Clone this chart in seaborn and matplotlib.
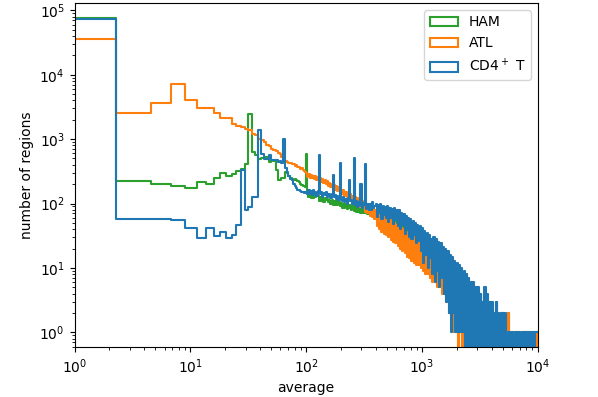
import numpy as np
import pandas as pd
import seaborn as sns
import matplotlib.pyplot as plt
from matplotlib.patches import Patch

plt.rcParams["path.simplify"] = False

# bins: 2.27 wide linear bins up to ~100, then log-spaced bins up to 10^4
bin_width = 2.27
n_linear = 44
n_tail = 200

labels = ["CD4$^+$ T", "ATL", "HAM"]
colors = ["tab:blue", "tab:orange", "tab:green"]

# counts for the linear bins (0 .. ~100)
cd4_linear = [74000, 58, 57, 56, 41, 29, 42, 31, 36, 29, 32, 46, 328, 79, 89, 126,
              126, 1370, 596, 499, 499, 561, 466, 480, 470, 440, 450, 430, 1018, 360,
              310, 270, 240, 235, 200, 185, 175, 165, 160, 155, 151, 150, 148, 152]
atl_linear = [35700, 2580, 3630, 7160, 4100, 3030, 3030, 2540, 2120, 2120, 1690, 1600,
              1540, 1450, 1370, 1200, 1150, 1000, 960, 900, 800, 790, 700, 670, 650,
              600, 580, 520, 470, 460, 440, 420, 430, 405, 410, 385, 395, 365, 370,
              345, 350, 330, 320, 310]
ham_linear = [76000, 222, 199, 188, 177, 214, 199, 250, 298, 265, 292, 321, 340, 410,
              2480, 631, 561, 499, 500, 527, 520, 442, 466, 460, 330, 235, 228, 250,
              245, 305, 300, 270, 250, 240, 235, 240, 230, 225, 215, 200, 195, 190,
              185, 180]

# counts for the log-spaced tail bins (~100 .. 10^4), one row per 0.1 decade
cd4_tail = [150, 138, 160, 142, 155, 135, 162, 140, 150, 132,
            158, 561, 140, 150, 128, 145, 135, 152, 125, 140,
            138, 120, 142, 275, 125, 135, 118, 130, 115, 430,
            122, 110, 125, 105, 118, 100, 120, 230, 108, 115,
            100, 517, 95, 110, 88, 105, 92, 200, 85, 102,
            95, 417, 82, 100, 80, 98, 78, 105, 85, 92,
            100, 62, 95, 70, 98, 58, 92, 66, 88, 60,
            90, 52, 85, 60, 82, 48, 86, 55, 78, 45,
            78, 40, 72, 46, 68, 34, 64, 40, 60, 30,
            58, 28, 54, 32, 50, 24, 46, 26, 44, 18,
            42, 12, 38, 16, 35, 10, 32, 14, 28, 8,
            30, 6, 28, 9, 25, 5, 24, 7, 21, 4,
            20, 3, 18, 2, 16, 1, 15, 2, 13, 1,
            12, 1, 11, 1, 10, 1, 9, 0, 8, 0,
            7, 0, 6, 0, 6, 0, 5, 0, 5, 0,
            4, 0, 3, 0, 5, 0, 4, 0, 3, 0,
            3, 0, 2, 0, 3, 0, 2, 0, 2, 0,
            2, 0, 2, 0, 1, 0, 1, 0, 1, 0,
            1, 0, 1, 0, 1, 0, 1, 0, 1, 0,
            1, 0, 1, 0, 1, 0, 1, 0, 1, 1]
atl_tail = [300, 262, 290, 250, 280, 245, 270, 240, 265, 235,
            255, 222, 248, 215, 240, 205, 230, 198, 222, 190,
            210, 178, 200, 170, 195, 162, 185, 158, 178, 150,
            165, 140, 160, 130, 150, 125, 145, 118, 140, 110,
            130, 105, 125, 98, 120, 92, 115, 88, 108, 85,
            105, 75, 100, 70, 95, 65, 90, 62, 85, 58,
            80, 45, 76, 40, 72, 36, 68, 34, 62, 32,
            60, 30, 56, 27, 52, 25, 49, 24, 46, 22,
            45, 20, 42, 18, 40, 17, 36, 15, 34, 14,
            32, 13, 30, 12, 29, 11, 27, 11, 26, 10,
            25, 9, 24, 8, 23, 8, 22, 7, 21, 6,
            20, 6, 18, 5, 17, 5, 16, 4, 15, 4,
            14, 3, 13, 2, 12, 2, 11, 1, 10, 1,
            10, 0, 9, 1, 8, 0, 7, 0, 8, 0,
            7, 0, 6, 0, 5, 1, 5, 0, 4, 0,
            4, 0, 3, 0, 4, 0, 2, 1, 3, 0,
            2, 0, 2, 0, 1, 0, 2, 0, 1, 0,
            2, 0, 1, 0, 2, 0, 1, 0, 1, 0,
            1, 0, 1, 0, 0, 1, 0, 1, 0, 0,
            1, 0, 0, 1, 0, 1, 0, 0, 1, 0]
ham_tail = [580, 140, 128, 145, 122, 138, 120, 142, 125, 135,
            130, 110, 125, 108, 128, 105, 120, 112, 118, 104,
            115, 98, 112, 95, 110, 96, 108, 94, 105, 92,
            102, 86, 100, 84, 98, 82, 96, 85, 94, 80,
            92, 76, 90, 75, 88, 74, 86, 72, 85, 70,
            86, 70, 84, 68, 82, 66, 80, 65, 80, 62,
            80, 60, 78, 58, 76, 56, 75, 55, 72, 52,
            72, 50, 70, 48, 66, 46, 64, 44, 60, 42,
            58, 38, 56, 36, 52, 34, 50, 32, 48, 30,
            46, 28, 44, 26, 42, 24, 40, 22, 38, 20,
            32, 16, 30, 14, 28, 12, 26, 10, 24, 9,
            24, 8, 22, 7, 20, 6, 19, 6, 17, 5,
            16, 5, 15, 4, 13, 3, 12, 3, 11, 2,
            11, 1, 10, 2, 9, 0, 8, 1, 7, 0,
            6, 0, 5, 0, 5, 1, 4, 0, 4, 0,
            4, 0, 3, 0, 3, 0, 2, 1, 3, 0,
            2, 0, 2, 0, 3, 0, 1, 0, 2, 0,
            2, 0, 1, 0, 2, 0, 1, 0, 1, 0,
            1, 0, 1, 0, 1, 0, 0, 1, 0, 1,
            1, 0, 0, 1, 0, 0, 1, 0, 0, 0]

edges = np.concatenate([np.arange(n_linear) * bin_width,
                        np.geomspace(n_linear * bin_width, 1e4, n_tail + 1)])
centers = (edges[:-1] + edges[1:]) / 2

series = [cd4_linear + cd4_tail, atl_linear + atl_tail, ham_linear + ham_tail]

fig = plt.figure(figsize=(5.98, 3.97), dpi=100)
ax = fig.add_axes([0.1246, 0.1252, 0.7746, 0.8673])

# HAM first, CD4+ T last so blue sits on top
for counts, lab, col in reversed(list(zip(series, labels, colors))):
    df = pd.DataFrame({"average": centers, "count": counts})
    sns.histplot(data=df, x="average", weights="count", bins=edges.tolist(),
                 element="step", fill=False, color=col, linewidth=1.5, ax=ax)

ax.set_xscale("log")
ax.set_yscale("log")
ax.set_xlim(1, 1e4)
ax.set_ylim(0.585, 1.3e5)
ax.set_xlabel("average")
ax.set_ylabel("number of regions")

handles = [Patch(facecolor="none", edgecolor=c, linewidth=1.5, label=l)
           for l, c in zip(labels, colors)][::-1]
ax.legend(handles=handles, loc="upper right")

fig.savefig("out.png", dpi=100)
